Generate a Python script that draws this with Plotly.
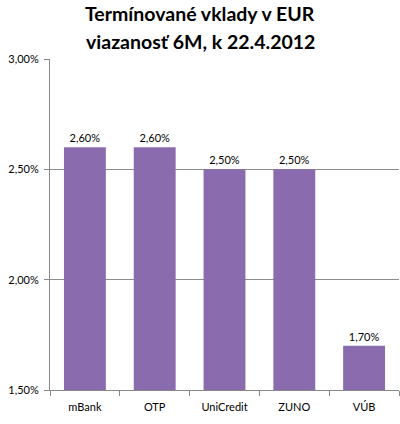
import plotly.graph_objects as go

categories = ["mBank", "OTP", "UniCredit", "ZUNO", "VÚB"]
rates = [0.026, 0.026, 0.025, 0.025, 0.017]
y_ticks = [0.015, 0.02, 0.025, 0.03]
y_tick_labels = ["1,50%", "2,00%", "2,50%", "3,00%"]
title_lines = ["Termínované vklady v EUR", "viazanosť 6M, k 22.4.2012"]

FONT = "Lato, Open Sans, sans-serif"

fig = go.Figure(go.Bar(
    x=categories,
    y=rates,
    marker=dict(color="#8A6BAE", line=dict(width=0)),
    text=[f"{v*100:.2f}%".replace(".", ",") for v in rates],
    textposition="outside",
    textfont=dict(family=FONT, size=11, color="#000000"),
    cliponaxis=False,
))

fig.update_layout(
    width=400, height=424,
    margin=dict(l=50, r=1, t=59, b=34, autoexpand=False),
    paper_bgcolor="white", plot_bgcolor="white",
    bargap=0.4,
    showlegend=False,
)
for i, line in enumerate(title_lines):
    fig.add_annotation(
        text=f"<b>{line}</b>", xref="paper", yref="paper",
        x=0.43, xanchor="center",
        y=1 + (59 - 14 - 27 * i) / 331, yanchor="middle",
        showarrow=False,
        font=dict(family=FONT, size=19.5, color="#000000"),
    )
fig.update_xaxes(
    automargin=False,
    showline=True, linecolor="#888888", linewidth=1,
    ticks="outside", tickson="boundaries", ticklen=5, tickcolor="#888888",
    ticklabelstandoff=7,
    tickfont=dict(family=FONT, size=11, color="#000000"),
    showgrid=False,
)
fig.update_yaxes(
    automargin=False,
    range=[0.015, 0.03],
    tickvals=y_ticks, ticktext=y_tick_labels,
    showline=True, linecolor="#888888", linewidth=1,
    ticks="outside", ticklen=5, tickcolor="#888888",
    ticklabelstandoff=3,
    showgrid=True, gridcolor="#8c8c8c", gridwidth=1,
    tickfont=dict(family=FONT, size=11, color="#000000"),
    zeroline=False,
)
fig.write_html(
    "out.html",
    config={"displayModeBar": False},
    post_script="document.body.style.margin='0';document.body.style.overflow='hidden';",
)
